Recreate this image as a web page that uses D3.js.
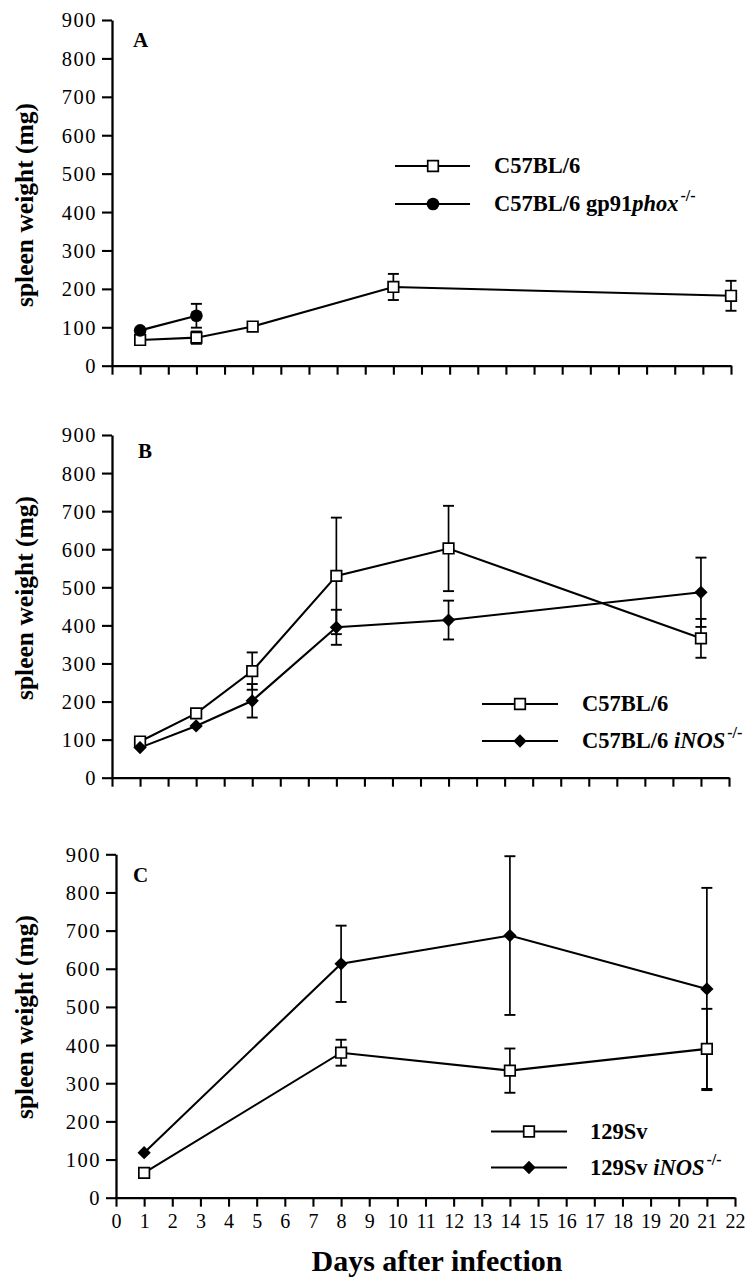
<!DOCTYPE html>
<html>
<head>
<meta charset="utf-8">
<script src="https://cdn.jsdelivr.net/npm/d3@7"></script>
<style>
  html, body { margin: 0; padding: 0; background: #fff; }
  svg { display: block; }
  text { font-family: "Liberation Serif", "Times New Roman", serif; fill: #000; }
</style>
</head>
<body>
<svg id="chart" width="751" height="1280"></svg>
<script>
// ---------- DATA ----------
const yTicks = [0, 100, 200, 300, 400, 500, 600, 700, 800, 900];
const xTicks = d3.range(0, 23);
const yLabel = "spleen weight (mg)";
const xLabel = "Days after infection";

// Panel A
const daysA_wt = [1, 3, 5, 10, 22];
const valA_wt = [67, 73, 102, 205, 182];
const errA_wt = [0, 16, 0, 34, 39];
const daysA_gp = [1, 3];
const valA_gp = [92, 130];
const errA_gp = [0, 31];

// Panel B
const daysB = [1, 3, 5, 8, 12, 21];
const valB_wt = [95, 169, 280, 530, 602, 366];
const errB_wt = [0, 0, 49, 153, 112, 51];
const valB_inos = [79, 136, 202, 395, 414, 487];
const errB_inos = [0, 0, 44, 46, 51, 91];

// Panel C
const daysC = [1, 8, 14, 21];
const valC_wt = [65, 380, 333, 390];
const errC_wt = [0, 34, 58, 105];
const valC_inos = [118, 613, 687, 547];
const errC_inos = [0, 100, 208, 265];

// ---------- LAYOUT ----------
const panels = [
  { letter: "A", x0: 112, x1: 731, y0: 365.7, y1: 20, lx: 133, ly: 47, labelY: 205,
    series: [
      { days: daysA_wt, vals: valA_wt, errs: errA_wt, marker: "square" },
      { days: daysA_gp, vals: valA_gp, errs: errA_gp, marker: "circle" }
    ],
    legend: { lineX0: 395, lineX1: 470, mX: 433, textX: 494, rows: [
      { y: 166, marker: "square", parts: [["C57BL/6", "normal"]] },
      { y: 204, marker: "circle", parts: [["C57BL/6 gp91", "normal"], ["phox", "italic"], ["-/-", "sup"]] }
    ]},
    xLabels: false },
  { letter: "B", x0: 112, x1: 729, y0: 777.7, y1: 435, lx: 138, ly: 458, labelY: 598,
    series: [
      { days: daysB, vals: valB_wt, errs: errB_wt, marker: "square" },
      { days: daysB, vals: valB_inos, errs: errB_inos, marker: "diamond" }
    ],
    legend: { lineX0: 482, lineX1: 558, mX: 520, textX: 582, rows: [
      { y: 704, marker: "square", parts: [["C57BL/6", "normal"]] },
      { y: 741, marker: "diamond", parts: [["C57BL/6 ", "normal"], ["iNOS", "italic"], ["-/-", "sup"]] }
    ]},
    xLabels: false },
  { letter: "C", x0: 116, x1: 735, y0: 1197.7, y1: 854.3, lx: 133, ly: 882, labelY: 1017,
    series: [
      { days: daysC, vals: valC_wt, errs: errC_wt, marker: "square" },
      { days: daysC, vals: valC_inos, errs: errC_inos, marker: "diamond" }
    ],
    legend: { lineX0: 491, lineX1: 567, mX: 529, textX: 590, rows: [
      { y: 1131.5, marker: "square", parts: [["129Sv", "normal"]] },
      { y: 1167.5, marker: "diamond", parts: [["129Sv ", "normal"], ["iNOS", "italic"], ["-/-", "sup"]] }
    ]},
    xLabels: true }
];

const svg = d3.select("#chart");
svg.append("rect").attr("width", 751).attr("height", 1280).attr("fill", "#fff");

function drawMarker(g, type, x, y) {
  if (type === "square") {
    g.append("path").attr("d", d3.symbol(d3.symbolSquare).size(112)())
      .attr("transform", `translate(${x},${y})`)
      .attr("fill", "#fff").attr("stroke", "#000").attr("stroke-width", 1.7);
  } else if (type === "circle") {
    g.append("path").attr("d", d3.symbol(d3.symbolCircle).size(125)())
      .attr("transform", `translate(${x},${y})`).attr("fill", "#000");
  } else {
    g.append("path").attr("d", d3.symbol(d3.symbolSquare).size(88)())
      .attr("transform", `translate(${x},${y}) rotate(45)`).attr("fill", "#000");
  }
}

panels.forEach(p => {
  const x = d3.scaleLinear().domain([0, 22]).range([p.x0, p.x1]);
  const y = d3.scaleLinear().domain([0, 900]).range([p.y0, p.y1]);
  const g = svg.append("g");

  // Y axis
  const ya = g.append("g").attr("transform", `translate(${p.x0},0)`)
    .call(d3.axisLeft(y).tickValues(yTicks).tickSize(10).tickSizeOuter(0).tickPadding(5));
  ya.attr("font-family", null);
  ya.select(".domain").attr("stroke-width", 2.3);
  ya.selectAll(".tick line").attr("stroke-width", 2.1);
  ya.selectAll(".tick text").attr("font-size", 20.5).attr("letter-spacing", "1.5px")
    .style("font-family", "'Liberation Serif', serif").attr("fill", "#000").attr("dy", "0.34em");

  // X axis
  const xa = g.append("g").attr("transform", `translate(0,${p.y0})`)
    .call(d3.axisBottom(x).tickValues(xTicks).tickSize(9).tickSizeOuter(0));
  xa.attr("font-family", null);
  xa.select(".domain").attr("stroke-width", 2.3);
  xa.selectAll(".tick line").attr("stroke-width", 2.1);
  if (p.xLabels) {
    xa.selectAll(".tick text").attr("font-size", 20).attr("y", 30).attr("dy", 0)
      .style("font-family", "'Liberation Serif', serif").attr("fill", "#000");
  } else {
    xa.selectAll(".tick text").remove();
  }

  // Y label
  g.append("text")
    .attr("transform", `translate(33,${p.labelY}) rotate(-90)`)
    .attr("text-anchor", "middle").attr("font-size", 25.5).attr("font-weight", "bold")
    .text(yLabel);

  // Panel letter
  g.append("text").attr("x", p.lx).attr("y", p.ly).attr("font-size", 21).attr("font-weight", "bold").text(p.letter);

  // Series
  const line = d3.line().x(d => x(d.d)).y(d => y(d.v));
  p.series.forEach(s => {
    const pts = s.days.map((d, i) => ({ d, v: s.vals[i], e: s.errs[i] }));
    pts.filter(pt => pt.e > 0).forEach(pt => {
      const cx = x(pt.d);
      g.append("line").attr("x1", cx).attr("x2", cx).attr("y1", y(pt.v - pt.e)).attr("y2", y(pt.v + pt.e))
        .attr("stroke", "#000").attr("stroke-width", 1.7);
      [pt.v - pt.e, pt.v + pt.e].forEach(v => {
        g.append("line").attr("x1", cx - 5.5).attr("x2", cx + 5.5).attr("y1", y(v)).attr("y2", y(v))
          .attr("stroke", "#000").attr("stroke-width", 1.9);
      });
    });
    g.append("path").datum(pts).attr("d", line).attr("fill", "none").attr("stroke", "#000").attr("stroke-width", 2.1);
  });
  p.series.forEach(s => {
    s.days.forEach((d, i) => drawMarker(g, s.marker, x(d), y(s.vals[i])));
  });

  // Legend
  const L = p.legend;
  L.rows.forEach(r => {
    g.append("line").attr("x1", L.lineX0).attr("x2", L.lineX1).attr("y1", r.y).attr("y2", r.y)
      .attr("stroke", "#000").attr("stroke-width", 2);
    drawMarker(g, r.marker, L.mX, r.y);
    const t = g.append("text").attr("x", L.textX).attr("y", r.y + 7).attr("font-size", 22.5).attr("font-weight", "bold");
    r.parts.forEach(([txt, style]) => {
      const ts = t.append("tspan").text(txt);
      if (style === "italic") ts.attr("font-style", "italic");
      if (style === "sup") ts.attr("font-size", 16).attr("dy", -10).attr("dx", 2);
    });
  });
});

// X axis title
svg.append("text").attr("x", 437).attr("y", 1271).attr("text-anchor", "middle")
  .attr("font-size", 30).attr("font-weight", "bold").text(xLabel);
</script>
</body>
</html>
